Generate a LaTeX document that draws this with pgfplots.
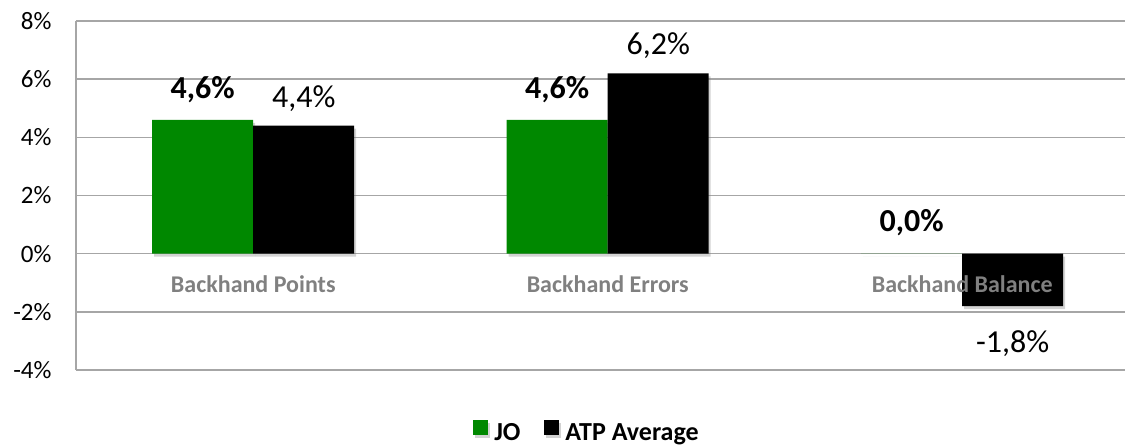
\documentclass[border=0pt]{standalone}
\usepackage{pgfplots}
\pgfplotsset{compat=1.18}
\usepackage{fontspec}
\setmainfont{Carlito}
\usetikzlibrary{shadows}
\definecolor{jogreen}{RGB}{0,136,0}
\definecolor{gridgray}{RGB}{166,166,166}
\definecolor{catgray}{RGB}{128,128,128}
\begin{document}
\begin{tikzpicture}[x=1pt,y=1pt]
\useasboundingbox (0,0) rectangle (1125,445);
\begin{axis}[
  at={(76pt,75pt)}, anchor=south west,
  scale only axis, width=1063.5pt, height=349pt,
  xmin=-0.5, xmax=2.5, ymin=-4, ymax=8,
  ytick={-4,-2,0,2,4,6,8},
  xtick=\empty,
  ymajorgrids, grid style={gridgray, line width=1.5pt},
  axis x line=none,
  axis y line*=left,
  y axis line style={gridgray, line width=1.5pt, -},
  major tick length=0pt,
  yticklabel style={font=\fontsize{25}{27}\selectfont, /pgf/number format/assume math mode=true, xshift=-21pt},
  yticklabel={\pgfmathprintnumber{\tick}\%},
  ybar=0pt, bar width=101pt,
  clip=false,
  visualization depends on={y \as \rawy},
  nodes near coords={\pgfmathprintnumber[use comma, fixed, fixed zerofill, precision=1]{\pgfplotspointmeta}\%},
  nodes near coords style={/pgf/number format/assume math mode=true},
  legend style={at={(0.4805,-0.178)}, anchor=center, draw=none, legend columns=-1,
    font=\fontsize{26}{28}\selectfont\bfseries,
    /tikz/every odd column/.append style={column sep=4pt},
    /tikz/every even column/.append style={column sep=22pt}},
  legend image code/.code={\fill[#1] (0pt,-3pt) rectangle (15pt,12pt);},
]
\addplot[fill=jogreen, draw=none, drop shadow={opacity=0.35, shadow xshift=2pt, shadow yshift=-3pt},
  nodes near coords style={font=\fontsize{32}{34}\selectfont\bfseries, black, yshift=14pt}]
  coordinates {(0,4.6) (1,4.6) (2,0.0)};
\addplot[fill=black, draw=none, drop shadow={opacity=0.35, shadow xshift=2pt, shadow yshift=-3pt},
  nodes near coords style={font=\fontsize{32}{34}\selectfont, black, yshift={(\rawy<0)*(-21)+(\rawy>=0)*11}}]
  coordinates {(0,4.4) (1,6.2) (2,-1.8)};
\legend{JO, ATP Average}
\node[font=\fontsize{24}{26}\selectfont\bfseries, text=catgray] at (axis cs:0,0) [yshift=-31pt] {Backhand Points};
\node[font=\fontsize{24}{26}\selectfont\bfseries, text=catgray] at (axis cs:1,0) [yshift=-31pt] {Backhand Errors};
\node[font=\fontsize{24}{26}\selectfont\bfseries, text=catgray] at (axis cs:2,0) [yshift=-31pt] {Backhand Balance};
\end{axis}
\end{tikzpicture}
\end{document}
